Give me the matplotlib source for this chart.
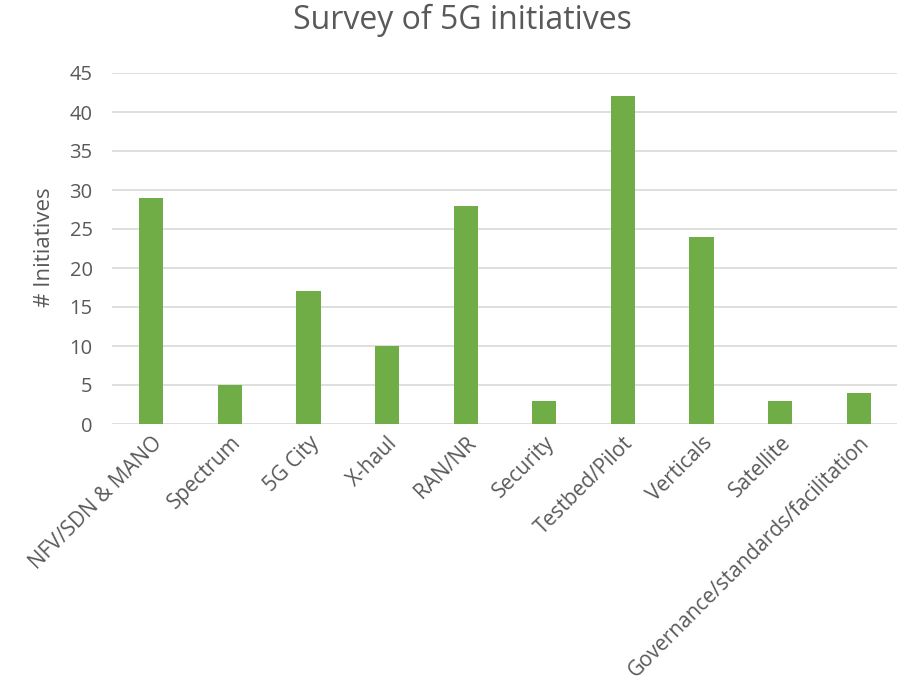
import matplotlib
matplotlib.use("Agg")
import matplotlib.pyplot as plt

categories = ["NFV/SDN & MANO", "Spectrum", "5G City", "X-haul", "RAN/NR",
              "Security", "Testbed/Pilot", "Verticals", "Satellite",
              "Governance/standards/facilitation"]
values = [29, 5, 17, 10, 28, 3, 42, 24, 3, 4]
yticks = [0, 5, 10, 15, 20, 25, 30, 35, 40, 45]

plt.rcParams['font.family'] = ['Open Sans', 'DejaVu Sans']
txt = '#595959'
fig = plt.figure(figsize=(8.97, 6.83), dpi=100)
ax = fig.add_axes([112/897, 1-424/683, (898-112)/897, (424-73)/683])
x = list(range(len(categories)))
ax.bar(x, values, width=0.31, color='#70AD47', zorder=3)
ax.set_xlim(-0.5, len(categories)-0.5)
ax.set_ylim(0, 45)
ax.set_yticks(yticks)
ax.set_yticklabels([str(t) for t in yticks], fontsize=14.5, color=txt)
ax.set_xticks(x)
ax.set_xticklabels(categories, rotation=45, ha='right', rotation_mode='anchor',
                   fontsize=15, color=txt)
ax.tick_params(axis='y', length=0, pad=14)
ax.tick_params(axis='x', length=0, pad=6)
ax.grid(axis='y', color='#D9D9D9', linewidth=1.2, zorder=0)
for s in ax.spines.values():
    s.set_visible(False)
fig.text(462/897, 1-20/683, "Survey of 5G initiatives", ha='center', va='center',
         fontsize=23, color=txt)
fig.text(45/897, 1-247/683, "# Initiatives", ha='center', va='center', rotation=90,
         fontsize=16, color=txt)
fig.savefig("out.png", dpi=100)
